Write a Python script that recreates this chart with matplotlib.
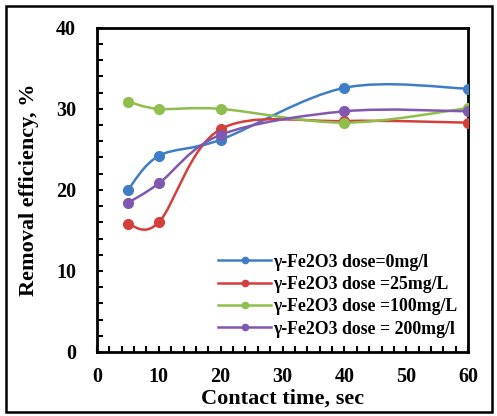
import numpy as np
import matplotlib
matplotlib.use("Agg")
import matplotlib.pyplot as plt
from matplotlib.path import Path
from matplotlib.patches import PathPatch, Rectangle
from matplotlib.lines import Line2D
from matplotlib.ticker import MultipleLocator

# ---- data ----
contact_time = [5, 10, 20, 40, 60]
dose_0 = [20.0, 24.2, 26.2, 32.6, 32.5]
dose_25 = [15.8, 16.0, 27.5, 28.5, 28.3]
dose_100 = [30.9, 30.0, 30.0, 28.3, 30.1]
dose_200 = [18.4, 20.8, 26.8, 29.7, 29.7]
labels = ["γ-Fe2O3 dose=0mg/l", "γ-Fe2O3 dose =25mg/L",
          "γ-Fe2O3 dose =100mg/L", "γ-Fe2O3 dose = 200mg/l"]
colors = ["#3f7ec6", "#d43f3c", "#8fbe4c", "#8058b0"]
x_ticks = [0, 10, 20, 30, 40, 50, 60]
y_ticks = [0, 10, 20, 30, 40]

plt.rcParams['font.family'] = ['Liberation Serif', 'DejaVu Serif']
plt.rcParams['font.weight'] = 'bold'

fig = plt.figure(figsize=(4.97, 4.16), dpi=100)
ax = fig.add_axes([0.195, 0.154, 0.747, 0.779])


def smooth_path(xs, ys, k=1.0 / 6.0):
    """Excel-like smoothed line: Catmull-Rom Bezier segments through points."""
    P = np.column_stack([xs, ys]).astype(float)
    n = len(P)
    verts = [P[0]]
    codes = [Path.MOVETO]
    for i in range(n - 1):
        p0 = P[i - 1] if i > 0 else P[i]
        p1 = P[i]
        p2 = P[i + 1]
        p3 = P[i + 2] if i + 2 < n else P[i + 1]
        c1 = p1 + (p2 - p0) * k
        c2 = p2 - (p3 - p1) * k
        verts += [c1, c2, p2]
        codes += [Path.CURVE4] * 3
    return Path(verts, codes)


series = [dose_0, dose_25, dose_100, dose_200]
handles = []
for ys, c, lab in zip(series, colors, labels):
    patch = PathPatch(smooth_path(contact_time, ys), facecolor='none',
                      edgecolor=c, lw=1.8, transform=ax.transData, zorder=2)
    ax.add_patch(patch)
    ax.plot(contact_time, ys, 'o', color=c, ms=7, zorder=3)
    handles.append(Line2D([], [], color=c, lw=1.8, marker='o', ms=4.5, label=lab))

ax.set_xlim(0, 60)
ax.set_ylim(0, 40)
ax.set_xticks(x_ticks)
ax.set_yticks(y_ticks)
ax.xaxis.set_minor_locator(MultipleLocator(2))
ax.yaxis.set_minor_locator(MultipleLocator(2))
ax.tick_params(axis='both', which='both', direction='in', top=False, right=False,
               width=1.5, labelsize=14.5)
ax.tick_params(axis='x', which='major', pad=11)
ax.tick_params(axis='y', which='major', pad=15)
ax.tick_params(axis='both', which='major', length=4.5)
ax.tick_params(axis='both', which='minor', length=4)
for lbl in ax.get_xticklabels() + ax.get_yticklabels():
    lbl.set_fontweight('bold')
for s in ax.spines.values():
    s.set_linewidth(2.0)

ax.set_xlabel("Contact time, sec", fontsize=16, fontweight='bold', labelpad=1)
ax.set_ylabel("Removal efficiency, %", fontsize=16, fontweight='bold', labelpad=12)

leg = ax.legend(handles=handles, loc='lower right', bbox_to_anchor=(1.0, 0.011),
                frameon=False, fontsize=12.8, handlelength=3.0, handletextpad=0.1,
                labelspacing=0.3, borderaxespad=0.2)
for t in leg.get_texts():
    t.set_fontweight('bold')

fig.patches.append(Rectangle((0.012, 0.01), 0.978, 0.976, transform=fig.transFigure,
                             fill=False, edgecolor='black', lw=1.8))

fig.savefig("out.png", dpi=100)
